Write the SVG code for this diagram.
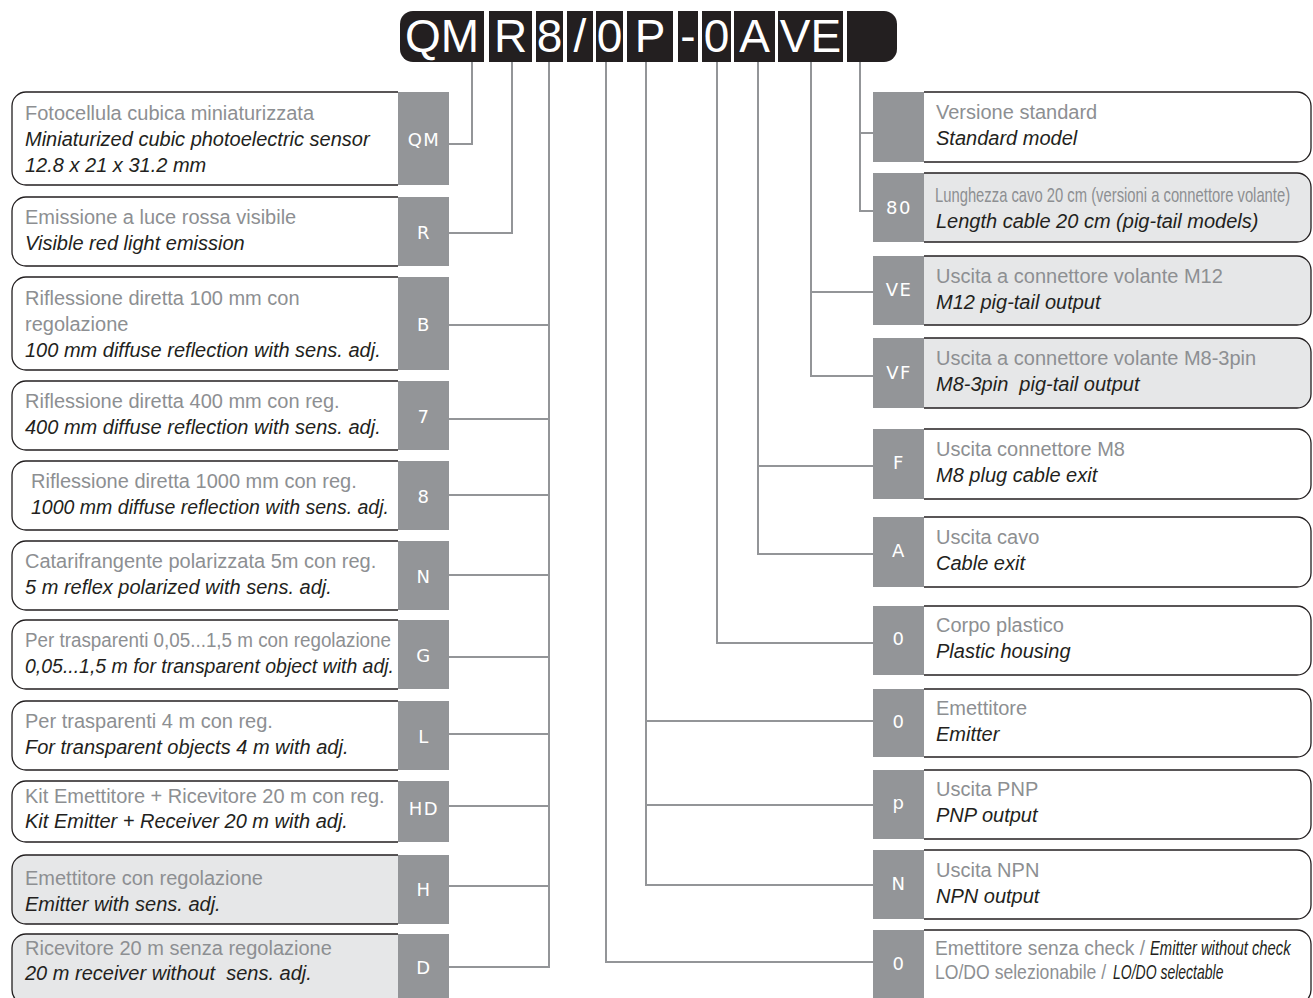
<svg xmlns="http://www.w3.org/2000/svg" width="1313" height="998" viewBox="0 0 1313 998">
<style>
.it{font-family:"Liberation Sans",Arial,sans-serif;font-size:20px;fill:#8d8f92}
.en{font-family:"Liberation Sans",Arial,sans-serif;font-size:20px;font-style:italic;fill:#231f20}
.code{font-family:"DejaVu Sans",sans-serif;font-size:18px;fill:#fff;text-anchor:middle;dominant-baseline:central;letter-spacing:1.5px}
.bar{font-family:"Liberation Sans",Arial,sans-serif;font-size:46px;fill:#fff;text-anchor:middle}
.box{fill:#fff;stroke:#231f20;stroke-width:1.3}
.alt{fill:#e6e7e8}
.cb{fill:#939598}
.conn path{fill:none;stroke:#939598;stroke-width:2}
</style>
<rect width="1313" height="998" fill="#fff"/>

<!-- connectors -->
<g class="conn" id="connectors">
<path d="M472,62V144H449"/>
<path d="M512,62V233H449"/>
<path d="M549,62V967H449M549,325H449M549,419H449M549,495H449M549,575H449M549,657H449M549,734H449M549,806H449M549,886H449"/>
<path d="M606,62V962H873"/>
<path d="M646,62V885H873M646,721H873M646,805H873"/>
<path d="M717,62V643H873"/>
<path d="M758,62V554H873M758,466H873"/>
<path d="M811,62V376H873M811,292H873"/>
<path d="M860,62V211H873M860,133H873"/>
</g>

<!-- code bar -->
<g id="codebar">
<rect x="400" y="11" width="497" height="51" rx="13" fill="#231f20"/>
<g fill="#fff">
<rect x="484" y="10" width="5" height="53"/>
<rect x="532" y="10" width="4" height="53"/>
<rect x="563" y="10" width="4" height="53"/>
<rect x="593" y="10" width="3" height="53"/>
<rect x="623" y="10" width="4" height="53"/>
<rect x="673" y="10" width="5" height="53"/>
<rect x="698" y="10" width="4" height="53"/>
<rect x="731" y="10" width="3" height="53"/>
<rect x="775" y="10" width="3" height="53"/>
<rect x="843" y="10" width="4" height="53"/>
</g>
<text class="bar" x="442" y="52">QM</text>
<text class="bar" x="510.5" y="52">R</text>
<text class="bar" x="549.5" y="52">8</text>
<text class="bar" x="580" y="52">/</text>
<text class="bar" x="609.5" y="52">0</text>
<text class="bar" x="650" y="52">P</text>
<text class="bar" x="688" y="52">-</text>
<text class="bar" x="716.5" y="52">0</text>
<text class="bar" x="754.5" y="52">A</text>
<text class="bar" x="810.5" y="52">VE</text>
</g>

<!-- left nodes -->
<g id="l-QM">
<path class="box" d="M398,92H26A14,14 0 0 0 12,106V171A14,14 0 0 0 26,185H398"/>
<rect class="cb" x="398" y="92" width="51" height="93"/>
<text class="code" x="424" y="139">QM</text>
<text class="it" x="25" y="120">Fotocellula cubica miniaturizzata</text>
<text class="en" x="25" y="146">Miniaturized cubic photoelectric sensor</text>
<text class="en" x="25" y="172">12.8 x 21 x 31.2 mm</text>
</g>
<g id="l-R">
<path class="box" d="M398,197H26A14,14 0 0 0 12,211V252A14,14 0 0 0 26,266H398"/>
<rect class="cb" x="398" y="197" width="51" height="69"/>
<text class="code" x="424" y="232">R</text>
<text class="it" x="25" y="224">Emissione a luce rossa visibile</text>
<text class="en" x="25" y="250">Visible red light emission</text>
</g>
<g id="l-B">
<path class="box" d="M398,277H26A14,14 0 0 0 12,291V356A14,14 0 0 0 26,370H398"/>
<rect class="cb" x="398" y="277" width="51" height="93"/>
<text class="code" x="424" y="324">B</text>
<text class="it" x="25" y="305">Riflessione diretta 100 mm con</text>
<text class="it" x="25" y="331">regolazione</text>
<text class="en" x="25" y="357">100 mm diffuse reflection with sens. adj.</text>
</g>
<g id="l-7">
<path class="box" d="M398,381H26A14,14 0 0 0 12,395V436A14,14 0 0 0 26,450H398"/>
<rect class="cb" x="398" y="381" width="51" height="69"/>
<text class="code" x="424" y="416">7</text>
<text class="it" x="25" y="408">Riflessione diretta 400 mm con reg.</text>
<text class="en" x="25" y="434">400 mm diffuse reflection with sens. adj.</text>
</g>
<g id="l-8">
<path class="box" d="M398,461H26A14,14 0 0 0 12,475V516A14,14 0 0 0 26,530H398"/>
<rect class="cb" x="398" y="461" width="51" height="69"/>
<text class="code" x="424" y="496">8</text>
<text class="it" x="31" y="488">Riflessione diretta 1000 mm con reg.</text>
<text class="en" x="31" y="514" textLength="358" lengthAdjust="spacingAndGlyphs">1000 mm diffuse reflection with sens. adj.</text>
</g>
<g id="l-N">
<path class="box" d="M398,541H26A14,14 0 0 0 12,555V596A14,14 0 0 0 26,610H398"/>
<rect class="cb" x="398" y="541" width="51" height="69"/>
<text class="code" x="424" y="576">N</text>
<text class="it" x="25" y="568">Catarifrangente polarizzata 5m con reg.</text>
<text class="en" x="25" y="594">5 m reflex polarized with sens. adj.</text>
</g>
<g id="l-G">
<path class="box" d="M398,620H26A14,14 0 0 0 12,634V675A14,14 0 0 0 26,689H398"/>
<rect class="cb" x="398" y="620" width="51" height="69"/>
<text class="code" x="424" y="655">G</text>
<text class="it" x="25" y="647" textLength="366" lengthAdjust="spacingAndGlyphs">Per trasparenti 0,05...1,5 m con regolazione</text>
<text class="en" x="25" y="673" textLength="369" lengthAdjust="spacingAndGlyphs">0,05...1,5 m for transparent object with adj.</text>
</g>
<g id="l-L">
<path class="box" d="M398,701H26A14,14 0 0 0 12,715V756A14,14 0 0 0 26,770H398"/>
<rect class="cb" x="398" y="701" width="51" height="69"/>
<text class="code" x="424" y="736">L</text>
<text class="it" x="25" y="728">Per trasparenti 4 m con reg.</text>
<text class="en" x="25" y="754">For transparent objects 4 m with adj.</text>
</g>
<g id="l-HD">
<path class="box" d="M398,781H26A14,14 0 0 0 12,795V828A14,14 0 0 0 26,842H398"/>
<rect class="cb" x="398" y="781" width="51" height="61"/>
<text class="code" x="424" y="808">HD</text>
<text class="it" x="25" y="803">Kit Emettitore + Ricevitore 20 m con reg.</text>
<text class="en" x="25" y="828">Kit Emitter + Receiver 20 m with adj.</text>
</g>
<g id="l-H">
<path class="box alt" d="M398,855H26A14,14 0 0 0 12,869V910A14,14 0 0 0 26,924H398"/>
<rect class="cb" x="398" y="855" width="51" height="69"/>
<text class="code" x="424" y="889">H</text>
<text class="it" x="25" y="885">Emettitore con regolazione</text>
<text class="en" x="25" y="911">Emitter with sens. adj.</text>
</g>
<g id="l-D">
<path class="box alt" d="M398,934H26A14,14 0 0 0 12,948V990A14,14 0 0 0 26,1004H398"/>
<rect class="cb" x="398" y="934" width="51" height="66"/>
<text class="code" x="424" y="967">D</text>
<text class="it" x="25" y="955">Ricevitore 20 m senza regolazione</text>
<text class="en" x="25" y="980" xml:space="preserve">20 m receiver without  sens. adj.</text>
</g>

<!-- right nodes -->
<g id="r-std">
<path class="box" d="M924,92H1297A14,14 0 0 1 1311,106V148A14,14 0 0 1 1297,162H924"/>
<rect class="cb" x="873" y="92" width="51" height="70"/>
<text class="it" x="936" y="119">Versione standard</text>
<text class="en" x="936" y="145">Standard model</text>
</g>
<g id="r-80">
<path class="box alt" d="M924,173H1297A14,14 0 0 1 1311,187V228A14,14 0 0 1 1297,242H924"/>
<rect class="cb" x="873" y="173" width="51" height="69"/>
<text class="code" x="899" y="207">80</text>
<text class="it" transform="translate(935,202) scale(0.74,1)">Lunghezza cavo 20 cm (versioni a connettore volante)</text>
<text class="en" x="936" y="228">Length cable 20 cm (pig-tail models)</text>
</g>
<g id="r-VE">
<path class="box alt" d="M924,256H1297A14,14 0 0 1 1311,270V311A14,14 0 0 1 1297,325H924"/>
<rect class="cb" x="873" y="256" width="51" height="69"/>
<text class="code" x="899" y="289">VE</text>
<text class="it" x="936" y="283">Uscita a connettore volante M12</text>
<text class="en" x="936" y="309">M12 pig-tail output</text>
</g>
<g id="r-VF">
<path class="box alt" d="M924,338H1297A14,14 0 0 1 1311,352V394A14,14 0 0 1 1297,408H924"/>
<rect class="cb" x="873" y="338" width="51" height="70"/>
<text class="code" x="899" y="372">VF</text>
<text class="it" x="936" y="365">Uscita a connettore volante M8-3pin</text>
<text class="en" x="936" y="391" xml:space="preserve">M8-3pin  pig-tail output</text>
</g>
<g id="r-F">
<path class="box" d="M924,429H1297A14,14 0 0 1 1311,443V485A14,14 0 0 1 1297,499H924"/>
<rect class="cb" x="873" y="429" width="51" height="70"/>
<text class="code" x="899" y="462">F</text>
<text class="it" x="936" y="456">Uscita connettore M8</text>
<text class="en" x="936" y="482">M8 plug cable exit</text>
</g>
<g id="r-A">
<path class="box" d="M924,517H1297A14,14 0 0 1 1311,531V573A14,14 0 0 1 1297,587H924"/>
<rect class="cb" x="873" y="517" width="51" height="70"/>
<text class="code" x="899" y="550">A</text>
<text class="it" x="936" y="544">Uscita cavo</text>
<text class="en" x="936" y="570">Cable exit</text>
</g>
<g id="r-0a">
<path class="box" d="M924,606H1297A14,14 0 0 1 1311,620V661A14,14 0 0 1 1297,675H924"/>
<rect class="cb" x="873" y="606" width="51" height="69"/>
<text class="code" x="899" y="638">0</text>
<text class="it" x="936" y="632">Corpo plastico</text>
<text class="en" x="936" y="658">Plastic housing</text>
</g>
<g id="r-0b">
<path class="box" d="M924,689H1297A14,14 0 0 1 1311,703V743A14,14 0 0 1 1297,757H924"/>
<rect class="cb" x="873" y="689" width="51" height="68"/>
<text class="code" x="899" y="721">0</text>
<text class="it" x="936" y="715">Emettitore</text>
<text class="en" x="936" y="741">Emitter</text>
</g>
<g id="r-p">
<path class="box" d="M924,770H1297A14,14 0 0 1 1311,784V825A14,14 0 0 1 1297,839H924"/>
<rect class="cb" x="873" y="770" width="51" height="69"/>
<text class="code" x="899" y="802">p</text>
<text class="it" x="936" y="796">Uscita PNP</text>
<text class="en" x="936" y="822">PNP output</text>
</g>
<g id="r-N">
<path class="box" d="M924,850H1297A14,14 0 0 1 1311,864V905A14,14 0 0 1 1297,919H924"/>
<rect class="cb" x="873" y="850" width="51" height="69"/>
<text class="code" x="899" y="883">N</text>
<text class="it" x="936" y="877">Uscita NPN</text>
<text class="en" x="936" y="903">NPN output</text>
</g>
<g id="r-0c">
<path class="box" d="M924,930H1297A14,14 0 0 1 1311,944V990A14,14 0 0 1 1297,1004H924"/>
<rect class="cb" x="873" y="930" width="51" height="70"/>
<text class="code" x="899" y="963">0</text>
<text class="it" transform="translate(935,955) scale(0.96,1)">Emettitore senza check /</text>
<text class="en" transform="translate(1150,955) scale(0.74,1)">Emitter without check</text>
<text class="it" transform="translate(935,979) scale(0.88,1)">LO/DO selezionabile /</text>
<text class="en" transform="translate(1113,979) scale(0.7,1)">LO/DO selectable</text>
</g>
</svg>
